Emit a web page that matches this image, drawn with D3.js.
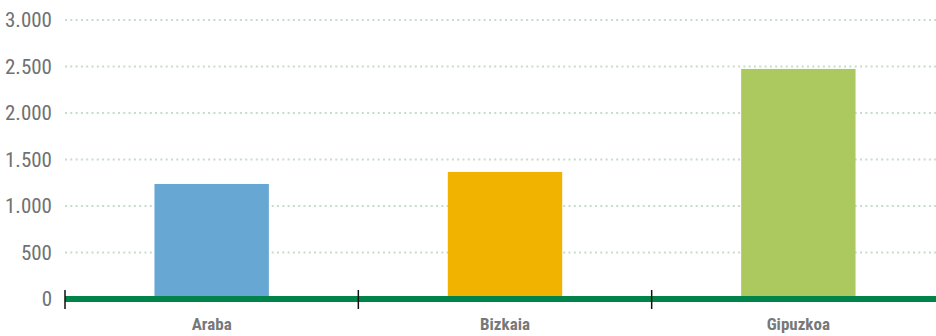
<!DOCTYPE html>
<html>
<head>
<meta charset="utf-8">
<script src="https://cdn.jsdelivr.net/npm/d3@7"></script>
<style>
  html, body { margin: 0; padding: 0; background: #fff; }
  svg { display: block; }
  .ylab { font-family: "Liberation Sans Narrow", "Roboto Condensed", "Liberation Sans", sans-serif; font-size: 21px; fill: #707173; }
  .xlab { font-family: "Liberation Sans Narrow", "Roboto Condensed", "Liberation Sans", sans-serif; font-size: 17px; font-weight: bold; fill: #77787a; }
</style>
</head>
<body>
<svg id="chart" width="936" height="336"></svg>
<script>
// Territories and their values
const categories = ["Araba", "Bizkaia", "Gipuzkoa"];
const values = [1237, 1366, 2474];
const colors = ["#67a7d4", "#f2b300", "#acc95f"];
const yTicks = [0, 500, 1000, 1500, 2000, 2500, 3000];
const yTickLabels = ["0", "500", "1.000", "1.500", "2.000", "2.500", "3.000"];

const svg = d3.select("#chart");
const plotLeft = 65, plotRight = 945, plotTop = 20, plotBottom = 299;

const x = d3.scaleBand().domain(categories).range([plotLeft, plotRight]).paddingInner(0).paddingOuter(0);
const y = d3.scaleLinear().domain([0, 3000]).range([plotBottom, plotTop]);
const barFrac = 0.39;

// Dotted gridlines
svg.append("g").selectAll("line").data(yTicks.slice(1)).join("line")
  .attr("x1", plotLeft).attr("x2", 936)
  .attr("y1", d => y(d)).attr("y2", d => y(d))
  .attr("stroke", "#c5ddc9").attr("stroke-width", 2)
  .attr("stroke-dasharray", "2,3.3");

// Y tick labels
svg.append("g").selectAll("text").data(yTicks).join("text")
  .attr("class", "ylab")
  .attr("x", 52).attr("y", d => y(d))
  .attr("dy", "0.35em")
  .attr("text-anchor", "end")
  .text((d, i) => yTickLabels[i]);

// Bars
svg.append("g").selectAll("rect").data(categories).join("rect")
  .attr("x", d => x(d) + x.bandwidth() * (1 - barFrac) / 2)
  .attr("width", x.bandwidth() * barFrac)
  .attr("y", (d, i) => y(values[i]))
  .attr("height", (d, i) => y(0) - y(values[i]))
  .attr("fill", (d, i) => colors[i]);

// Baseline
svg.append("line")
  .attr("x1", plotLeft).attr("x2", 936)
  .attr("y1", y(0)).attr("y2", y(0))
  .attr("stroke", "#00844a").attr("stroke-width", 6);

// Category boundary ticks
svg.append("g").selectAll("line").data(categories).join("line")
  .attr("x1", d => x(d)).attr("x2", d => x(d))
  .attr("y1", y(0) - 9).attr("y2", y(0) + 10)
  .attr("stroke", "#111").attr("stroke-width", 1.5);

// Category labels
svg.append("g").selectAll("text").data(categories).join("text")
  .attr("class", "xlab")
  .attr("x", d => x(d) + x.bandwidth() / 2)
  .attr("y", 330)
  .attr("text-anchor", "middle")
  .text(d => d);
</script>
</body>
</html>
